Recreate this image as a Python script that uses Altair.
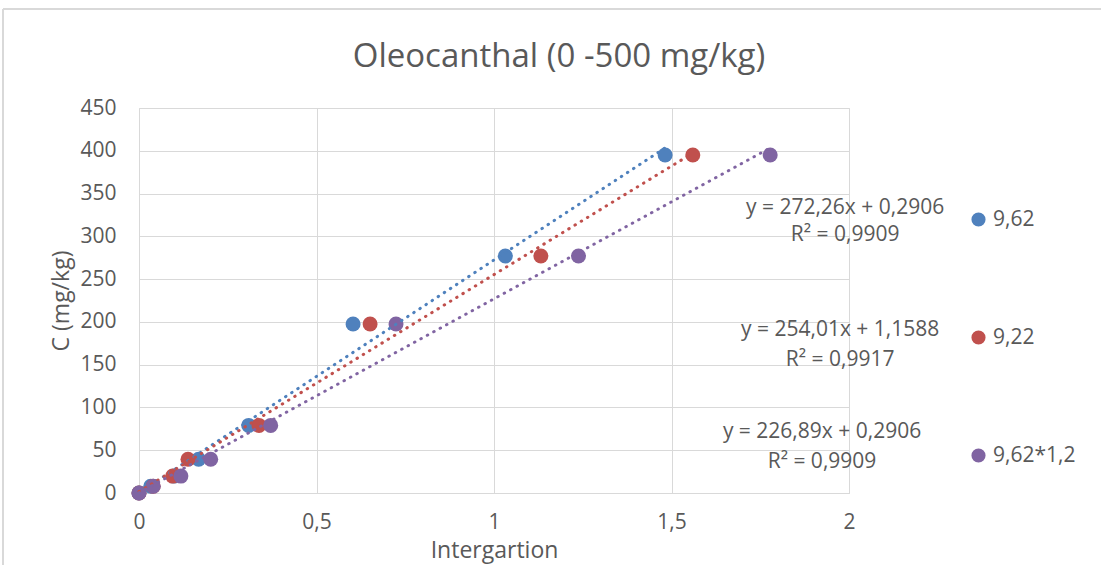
import altair as alt
import pandas as pd

# ---- data ----
series_names = ["9,62", "9,22", "9,62*1,2"]
series_colors = ["#4F81BD", "#C0504D", "#8064A2"]
conc = [0, 7.9, 19.75, 39.5, 79.0, 197.6, 277.0, 395.0]
x_962 = [0, 0.033, 0.098, 0.168, 0.309, 0.603, 1.032, 1.482]
x_922 = [0, 0.040, 0.095, 0.138, 0.338, 0.651, 1.132, 1.560]
x_962_12 = [0, 0.040, 0.118, 0.202, 0.371, 0.724, 1.238, 1.778]

eq_lines = ["y = 272,26x + 0,2906", "R² = 0,9909",
            "y = 254,01x + 1,1588", "R² = 0,9917",
            "y = 226,89x + 0,2906", "R² = 0,9909"]
eq_x = [1.989, 1.989, 1.975, 1.975, 1.924, 1.924]
eq_y = [333, 301, 190.5, 155.5, 71.5, 36]

FONT = "Open Sans"
GREY = "#595959"

rows = []
for i, (name, xs) in enumerate(zip(series_names, [x_962, x_922, x_962_12])):
    for xv, yv in zip(xs, conc):
        rows.append({"series": name, "x": xv, "y": yv, "ord": i})
df = pd.DataFrame(rows)
ann = pd.DataFrame({"t": eq_lines, "x": eq_x, "y": eq_y})

xscale = alt.Scale(domain=[0, 2], nice=False)
yscale = alt.Scale(domain=[0, 450], nice=False)
color = alt.Color(
    "series:N",
    scale=alt.Scale(domain=series_names, range=series_colors),
    legend=alt.Legend(
        title=None, orient="none", legendX=829, legendY=101,
        rowPadding=96, labelOffset=4, symbolType="circle", symbolSize=200,
        symbolStrokeWidth=0, labelFontSize=21, labelFont=FONT,
        labelColor=GREY, padding=0,
    ),
)

base = alt.Chart(df)

points = base.mark_point(filled=True, opacity=1, size=225).encode(
    x=alt.X("x:Q", scale=xscale, title="Intergartion",
            axis=alt.Axis(values=[0, 0.5, 1, 1.5, 2],
                          labelExpr="replace(format(datum.value, '~g'), '.', ',')",
                          labelFlush=False,
                          grid=True, gridColor="#d9d9d9", domainColor="#d9d9d9",
                          ticks=False, tickSize=0, labelPadding=18,
                          labelFontSize=21, labelFont=FONT, labelColor=GREY,
                          titleFontSize=23, titleFont=FONT, titleColor=GREY,
                          titleFontWeight="normal", titlePadding=7)),
    y=alt.Y("y:Q", scale=yscale, title="C (mg/kg)",
            axis=alt.Axis(values=list(range(0, 451, 50)),
                          grid=True, gridColor="#d9d9d9", domain=False,
                          ticks=False, tickSize=0, labelPadding=23,
                          labelFontSize=21, labelFont=FONT, labelColor=GREY,
                          titleFontSize=23, titleFont=FONT, titleColor=GREY,
                          titleFontWeight="normal", titlePadding=6)),
    color=color,
    order=alt.Order("ord:Q"),
)

trend = base.transform_regression(
    "x", "y", groupby=["series"]
).mark_line(strokeDash=[0.5, 6.8], strokeCap="round", strokeWidth=3).encode(
    x=alt.X("x:Q", scale=xscale),
    y=alt.Y("y:Q", scale=yscale),
    color=alt.Color("series:N", scale=alt.Scale(domain=series_names, range=series_colors), legend=None),
)

labels = alt.Chart(ann).mark_text(
    font=FONT, fontSize=21, color=GREY, align="center", baseline="middle"
).encode(x=alt.X("x:Q", scale=xscale), y=alt.Y("y:Q", scale=yscale), text="t:N")

frame = alt.Chart(ann).mark_rule(color="#d9d9d9", strokeWidth=1.5).encode(
    x=alt.value(-136), x2=alt.value(970), y=alt.value(-99)
)
frame2 = alt.Chart(ann).mark_rule(color="#d9d9d9", strokeWidth=1.5).encode(
    x=alt.value(-136), y=alt.value(-99), y2=alt.value(460)
)

chart = alt.layer(frame, frame2, points, trend, labels).properties(
    width=710, height=385,
    autosize=alt.AutoSizeParams(type="none"),
    padding={"left": 139, "top": 108, "right": 252, "bottom": 72},
    title=alt.TitleParams("Oleocanthal (0 -500 mg/kg)", fontSize=33, font=FONT,
                          color=GREY, fontWeight="normal", anchor="middle",
                          dx=65, offset=-66),
).configure_view(stroke=None).configure(background="white")

chart.save("out.html", embed_options={"renderer": "svg", "actions": False})
